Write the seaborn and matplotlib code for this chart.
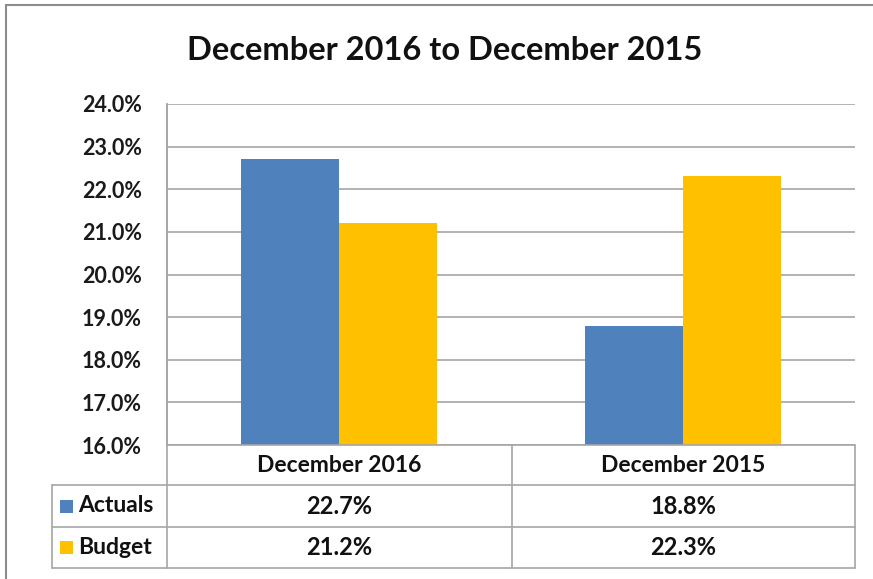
import matplotlib
matplotlib.use("Agg")
import matplotlib.pyplot as plt
import matplotlib.ticker as mticker
from matplotlib.lines import Line2D
from matplotlib.patches import Rectangle
import seaborn as sns
import pandas as pd

categories = ["December 2016", "December 2015"]
series_names = ["Actuals", "Budget"]
actuals = [22.7, 18.8]
budget = [21.2, 22.3]
y_ticks = [16.0, 17.0, 18.0, 19.0, 20.0, 21.0, 22.0, 23.0, 24.0]
title = "December 2016 to December 2015"
colors = ["#4F81BD", "#FFC000"]

df = pd.DataFrame({
    "Period": categories * 2,
    "Series": [series_names[0]] * 2 + [series_names[1]] * 2,
    "Value": actuals + budget,
})

sns.set_style("white")
plt.rcParams["font.family"] = ["Lato", "DejaVu Sans"]
plt.rcParams["font.weight"] = "bold"

W, H = 873, 579
fig = plt.figure(figsize=(W / 100, H / 100), dpi=100)
fig.patch.set_facecolor("white")

def fx(px):
    return px / W

def fy(py):
    return 1 - py / H

left, right, top, bottom = 167, 855, 104, 445
ax = fig.add_axes([fx(left), fy(bottom), fx(right) - fx(left), fy(top) - fy(bottom)])

sns.barplot(data=df, x="Period", y="Value", hue="Series", order=categories,
            hue_order=series_names, palette=colors, width=0.57, gap=0,
            saturation=1, ax=ax, legend=False, linewidth=0)

ax.set_xlim(-0.5, 1.5)
ax.set_ylim(y_ticks[0], y_ticks[-1])
ax.set_yticks(y_ticks)
ax.yaxis.set_major_formatter(mticker.FuncFormatter(lambda v, p: f"{v:.1f}%"))
ax.tick_params(axis="y", labelsize=15.5, length=0, pad=18)
for lab in ax.get_yticklabels():
    lab.set_fontweight("bold")
    lab.set_color("#1a1a1a")
ax.set_xticks([])
ax.set_xlabel("")
ax.set_ylabel("")
ax.yaxis.grid(True, color="#A6A6A6", linewidth=1.2)
ax.set_axisbelow(True)
for s in ["top", "right", "bottom"]:
    ax.spines[s].set_visible(False)
ax.spines["left"].set_color("#A6A6A6")
ax.spines["left"].set_linewidth(1.2)

# Title
fig.text(fx(445), fy(50), title, ha="center", va="center", fontsize=23.5,
         fontweight="bold", color="#111111")

# Outer chart frame (left and top edges visible)
lc = "#A6A6A6"
fig.add_artist(Line2D([fx(6), fx(6)], [fy(5), fy(579)], color="#8C8C8C", lw=1.5))
fig.add_artist(Line2D([fx(6), fx(873)], [fy(5), fy(5)], color="#8C8C8C", lw=1.5))

# Data table
tab_left = 52
col_x = [left, 512, right]
row_y = [bottom, 485, 527, 568]

def hline(x0, x1, y):
    fig.add_artist(Line2D([fx(x0), fx(x1)], [fy(y), fy(y)], color=lc, lw=1.2))

def vline(x, y0, y1):
    fig.add_artist(Line2D([fx(x), fx(x)], [fy(y0), fy(y1)], color=lc, lw=1.2))

hline(left, right, row_y[0])
for y in row_y[1:]:
    hline(tab_left, right, y)
vline(tab_left, row_y[1], row_y[3])
vline(left, top, row_y[3])
vline(col_x[1], row_y[0], row_y[3])
vline(right, row_y[0], row_y[3])

fs = 16.5
for i, cat in enumerate(categories):
    cx = (col_x[i] + col_x[i + 1]) / 2
    fig.text(fx(cx), fy((row_y[0] + row_y[1]) / 2), cat, ha="center", va="center",
             fontsize=fs, fontweight="bold", color="#111111")

for r, (name, vals, col) in enumerate(zip(series_names, [actuals, budget], colors)):
    cy = (row_y[r + 1] + row_y[r + 2]) / 2
    fig.add_artist(Rectangle((fx(60), fy(cy + 6.5)), fx(13), fy(0) - fy(13),
                             facecolor=col, edgecolor="none",
                             transform=fig.transFigure))
    fig.text(fx(78), fy(cy), name, ha="left", va="center", fontsize=fs,
             fontweight="bold", color="#111111")
    for i, v in enumerate(vals):
        cx = (col_x[i] + col_x[i + 1]) / 2
        fig.text(fx(cx), fy(cy), f"{v:.1f}%", ha="center", va="center",
                 fontsize=fs + 0.5, fontweight="bold", color="#111111")

fig.savefig("out.png", dpi=100, facecolor="white")
